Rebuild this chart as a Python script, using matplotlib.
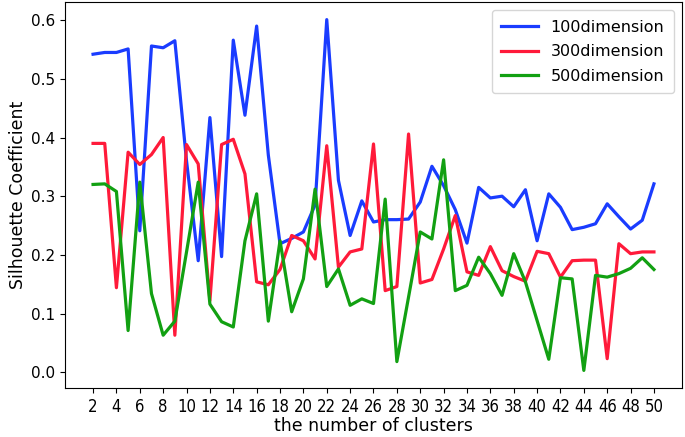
import numpy as np
import matplotlib
matplotlib.use('Agg')
import matplotlib.pyplot as plt

# Datos
clusters = list(range(2, 51))

dim100 = [0.542, 0.545, 0.545, 0.551, 0.241, 0.556, 0.553, 0.565, 0.36, 0.19,
          0.434, 0.197, 0.566, 0.438, 0.590, 0.37, 0.219, 0.228, 0.239, 0.285,
          0.601, 0.327, 0.233, 0.292, 0.256, 0.260, 0.260, 0.261, 0.290, 0.351,
          0.318, 0.277, 0.220, 0.315, 0.297, 0.300, 0.282, 0.311, 0.224, 0.304,
          0.281, 0.243, 0.247, 0.253, 0.287, 0.265, 0.244, 0.259, 0.321]

dim300 = [0.390, 0.390, 0.144, 0.375, 0.354, 0.371, 0.400, 0.063, 0.388, 0.355,
          0.122, 0.388, 0.397, 0.338, 0.154, 0.149, 0.175, 0.233, 0.224, 0.193,
          0.386, 0.179, 0.205, 0.210, 0.389, 0.139, 0.146, 0.406, 0.152, 0.158,
          0.210, 0.267, 0.171, 0.165, 0.214, 0.173, 0.163, 0.155, 0.206, 0.202,
          0.162, 0.190, 0.191, 0.191, 0.023, 0.219, 0.202, 0.205, 0.205]

dim500 = [0.320, 0.321, 0.308, 0.071, 0.324, 0.134, 0.063, 0.087, 0.205, 0.324,
          0.116, 0.086, 0.077, 0.224, 0.304, 0.087, 0.224, 0.103, 0.159, 0.312,
          0.146, 0.176, 0.114, 0.125, 0.117, 0.295, 0.018, 0.128, 0.239, 0.227,
          0.362, 0.139, 0.148, 0.196, 0.168, 0.131, 0.202, 0.154, 0.088, 0.022,
          0.161, 0.159, 0.003, 0.165, 0.162, 0.168, 0.177, 0.195, 0.175]

xticks = list(range(2, 51, 2))

fig = plt.figure(figsize=(6.85, 4.37), dpi=100)
ax = fig.add_axes([0.0949, 0.1121, 0.9007, 0.8833])

ax.plot(clusters, dim100, color='#1a3cff', lw=2.3, label='100dimension')
ax.plot(clusters, dim300, color='#ff1a3a', lw=2.3, label='300dimension')
ax.plot(clusters, dim500, color='#12a012', lw=2.3, label='500dimension')

ax.set_xlim(-0.4, 52.4)
ax.set_ylim(-0.027, 0.631)
ax.set_xticks(xticks)
ax.set_xticklabels([str(t) for t in xticks], fontsize=12, fontstretch='condensed')
ax.set_yticks([0.0, 0.1, 0.2, 0.3, 0.4, 0.5, 0.6])
ax.tick_params(axis='y', labelsize=11)
ax.set_xlabel('the number of clusters', fontsize=12.5, labelpad=1)
ax.set_ylabel('Silhouette Coefficient', fontsize=12.5, labelpad=3)
ax.legend(loc='upper right', fontsize=11.5, handlelength=2.3,
          labelspacing=0.6, borderpad=0.6)

fig.savefig('out.png', dpi=100)
